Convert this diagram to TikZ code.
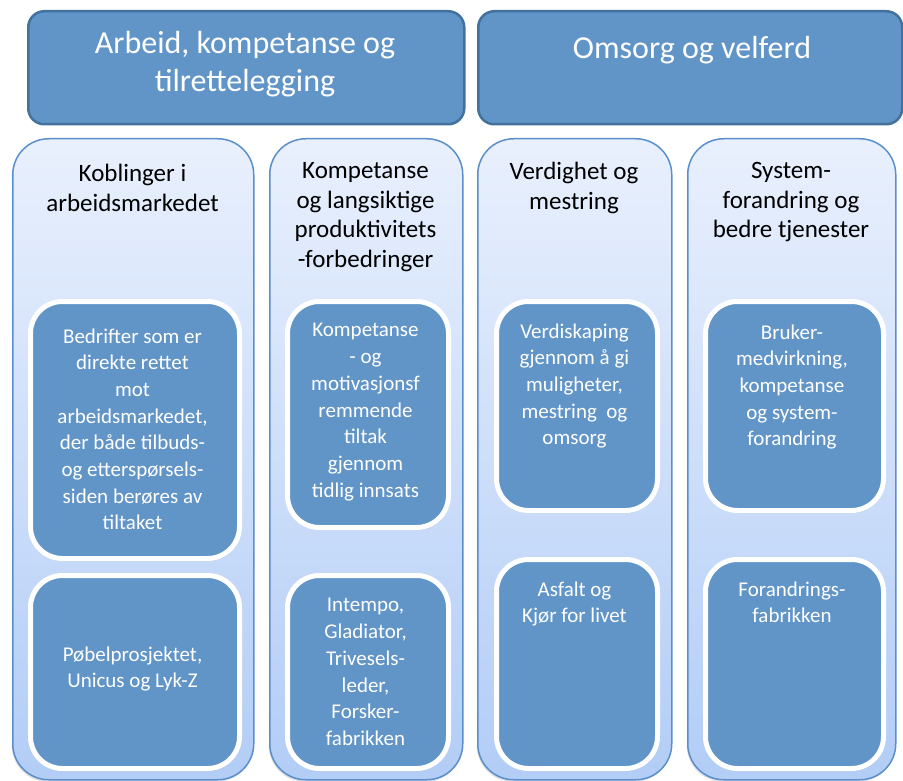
\documentclass[tikz,border=0pt]{standalone}
\usepackage{fontspec}
\setmainfont{Carlito}
\usetikzlibrary{shadows}

\definecolor{hdrblue}{RGB}{97,149,199}
\definecolor{hdrline}{RGB}{65,113,156}
\definecolor{colline}{RGB}{91,143,204}
\definecolor{coltop}{RGB}{233,240,253}
\definecolor{colbot}{RGB}{178,205,246}

\begin{document}
\begin{tikzpicture}[x=1pt, y=-1pt,
          header/.style={draw=hdrline, line width=2.5pt, fill=hdrblue, rounded corners=16pt, anchor=north west, inner sep=0pt},
          column/.style={draw=colline, line width=1.5pt, top color=coltop, bottom color=colbot, rounded corners=36pt, anchor=north west, inner sep=0pt,
            drop shadow={opacity=0.25, shadow xshift=-1pt, shadow yshift=-2pt}},
          item/.style={draw=white, line width=5pt, fill=hdrblue, rounded corners=32pt, anchor=north west, inner sep=0pt,
            drop shadow={opacity=0.3, shadow xshift=1pt, shadow yshift=-2.5pt}},
          % text nodes are placed at the baseline of their first line
          headtext/.style={text=white, font=\fontsize{32}{38}\selectfont, align=center, anchor=north, inner sep=0pt, yshift=21.6pt, execute at begin node=\strut},
          coltext/.style={font=\fontsize{25}{29.5}\selectfont, align=center, anchor=north, inner sep=0pt, yshift=15.65pt, execute at begin node=\strut},
          itemtext/.style={text=white, font=\fontsize{21}{26.7}\selectfont, align=center, anchor=north, inner sep=0pt, yshift=13.69pt, execute at begin node=\strut}
        ]
          \useasboundingbox (0,0) rectangle (903,781);

          % Main areas
          \node[header, minimum width=436pt, minimum height=113pt] (arbeid) at (27,10) {};
          \node[header, minimum width=424pt, minimum height=113pt] (omsorg) at (477,10) {};
          \node[headtext] (arbeidtxt) at (245,53) {Arbeid, kompetanse og\\tilrettelegging};
          \node[headtext] (omsorgtxt) at (692,53) {Omsorg og velferd};

          % Columns
          \node[column, minimum width=241pt, minimum height=641pt] (kobl) at (12,138) {};
          \node[column, minimum width=193pt, minimum height=641pt] (komp) at (269,138) {};
          \node[column, minimum width=194pt, minimum height=641pt] (verd) at (477,138) {};
          \node[column, minimum width=208pt, minimum height=641pt] (syst) at (687,138) {};

          \node[coltext] (kobltxt) at (132.5,180) {Koblinger i\\arbeidsmarkedet};
          \node[coltext] (komptxt) at (365.5,178) {Kompetanse\\og langsiktige\\produktivitets\\-forbedringer};
          \node[coltext] (verdtxt) at (574,178) {Verdighet og\\mestring};
          \node[coltext] (systtxt) at (791,178) {System-\\forandring og\\bedre tjenester};

          % Measures and projects
          \node[item, minimum width=209pt, minimum height=257pt] (bedr) at (28,299) {};
          \node[item, minimum width=209pt, minimum height=193pt] (pobel) at (28,573) {};
          \node[item, minimum width=161pt, minimum height=226pt] (motiv) at (285,299) {};
          \node[item, minimum width=161pt, minimum height=193pt] (intempo) at (285,573) {};
          \node[item, minimum width=161pt, minimum height=209pt] (verdisk) at (494,299) {};
          \node[item, minimum width=161pt, minimum height=209pt] (asfalt) at (494,557) {};
          \node[item, minimum width=178pt, minimum height=209pt] (bruker) at (703,299) {};
          \node[item, minimum width=178pt, minimum height=209pt] (forandr) at (703,557) {};

          \node[itemtext] (bedrtxt) at (132.5,342) {Bedrifter som er\\direkte rettet\\mot\\arbeidsmarkedet,\\der både tilbuds-\\og etterspørsels-\\siden berøres av\\tiltaket};
          \node[itemtext] (pobeltxt) at (132.5,660) {Pøbelprosjektet,\\Unicus og Lyk-Z};
          \node[itemtext] (motivtxt) at (365.5,337) {Kompetanse\\- og\\motivasjonsf\\remmende\\tiltak\\gjennom\\tidlig innsats};
          \node[itemtext] (intempotxt) at (365.5,612) {Intempo,\\Gladiator,\\Trivesels-\\leder,\\Forsker-\\fabrikken};
          \node[itemtext] (verdisktxt) at (574.5,337) {Verdiskaping\\gjennom å gi\\muligheter,\\mestring~ og\\omsorg};
          \node[itemtext] (asfalttxt) at (574.5,595) {Asfalt og\\Kjør for livet};
          \node[itemtext] (brukertxt) at (792,338) {Bruker-\\medvirkning,\\kompetanse\\og system-\\forandring};
          \node[itemtext] (forandrtxt) at (792,595) {Forandrings-\\fabrikken};

        \end{tikzpicture}
\end{document}
